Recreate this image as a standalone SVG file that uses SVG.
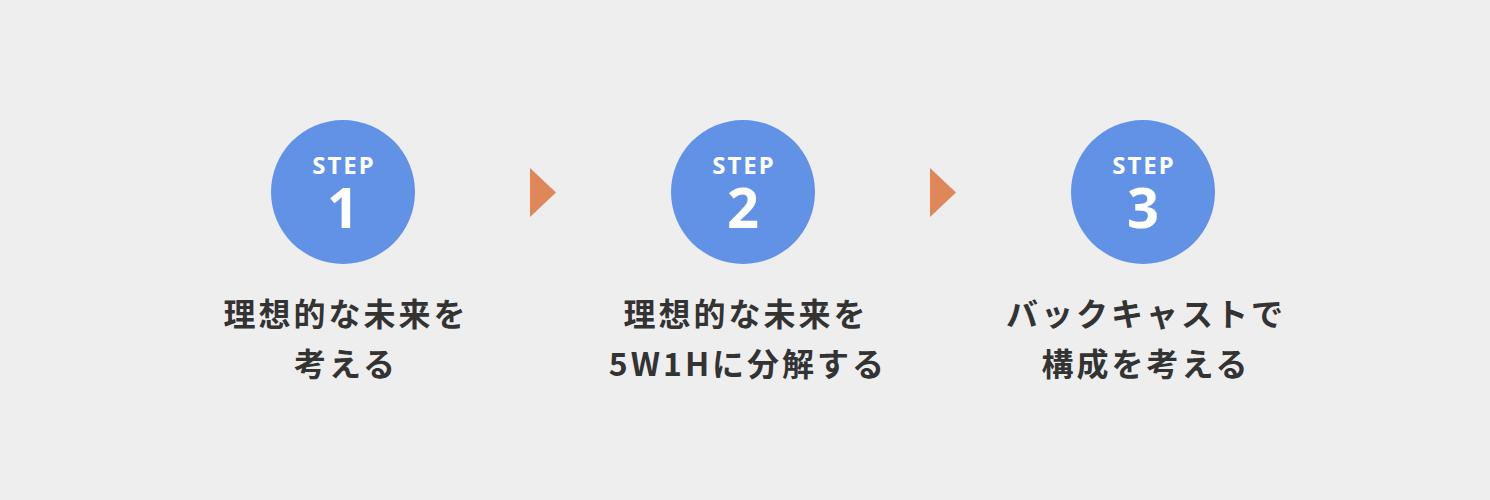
<svg xmlns="http://www.w3.org/2000/svg" width="1490" height="500" viewBox="0 0 1490 500">
<style>
.c{fill:#6192e5}
.a{fill:#df8759}
.lab{font-family:"Noto Sans","Noto Sans CJK JP",sans-serif;font-weight:700;fill:#fff;text-anchor:middle}
.st{font-size:24px;letter-spacing:2px}
.n{font-size:56px;letter-spacing:0}
.t{font-family:"Noto Sans CJK JP",sans-serif;font-weight:700;font-size:32px;fill:#333;text-anchor:middle;letter-spacing:3px}
</style>
<rect width="1490" height="500" fill="#eeeeee"/>
<g id="step1">
<circle class="c" cx="343" cy="192" r="72"/>
<text class="lab"><tspan class="st" x="344" y="174">STEP</tspan><tspan class="n" x="343" y="228">1</tspan></text>
<text class="t" x="346" y="326">理想的な未来を</text>
<text class="t" x="346" y="376">考える</text>
</g>
<g id="step2">
<circle class="c" cx="743" cy="192" r="72"/>
<text class="lab"><tspan class="st" x="744" y="174">STEP</tspan><tspan class="n" x="743" y="228">2</tspan></text>
<text class="t" x="746" y="326">理想的な未来を</text>
<text class="t" x="748" y="376">5W1Hに分解する</text>
</g>
<g id="step3">
<circle class="c" cx="1143" cy="192" r="72"/>
<text class="lab"><tspan class="st" x="1144" y="174">STEP</tspan><tspan class="n" x="1143" y="228">3</tspan></text>
<text class="t" x="1146" y="326">バックキャストで</text>
<text class="t" x="1146" y="376">構成を考える</text>
</g>
<g id="connectors">
<polygon class="a" points="530,168 556,192.5 530,217"/>
<polygon class="a" points="930,168 956,192.5 930,217"/>
</g>
</svg>
